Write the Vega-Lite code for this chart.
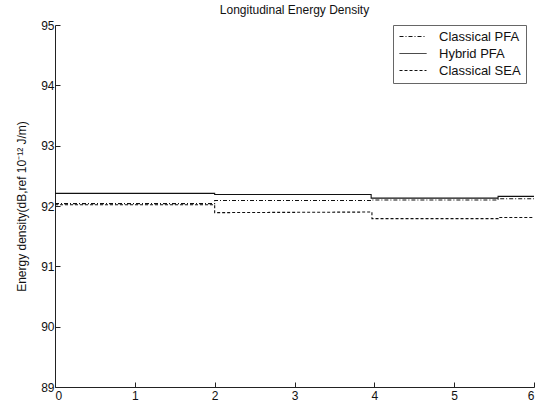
{
  "$schema": "https://vega.github.io/schema/vega-lite/v6.json",
  "autosize": "none",
  "width": 479,
  "height": 362,
  "padding": {"left": 55, "top": 25, "right": 6, "bottom": 25},
  "background": "white",
  "title": {"text": "Longitudinal Energy Density", "font": "Liberation Sans", "fontSize": 12, "fontWeight": "normal", "color": "#111", "offset": 2, "anchor": "middle"},
  "config": {
    "view": {"stroke": null},
    "font": "Liberation Sans",
    "axis": {"grid": false, "domainColor": "#222", "tickColor": "#222", "labelColor": "#111", "labelFontSize": 12, "titleFontSize": 12, "titleFontWeight": "normal", "titleColor": "#111", "tickSize": -5, "labelPadding": 6}
  },
  "data": {"values": [
    {"series": "Classical PFA", "i": 0, "x": 0, "y": 92.04},
    {"series": "Classical PFA", "i": 1, "x": 2, "y": 92.04},
    {"series": "Classical PFA", "i": 2, "x": 2, "y": 92.09},
    {"series": "Classical PFA", "i": 3, "x": 3.97, "y": 92.09},
    {"series": "Classical PFA", "i": 4, "x": 3.97, "y": 92.1},
    {"series": "Classical PFA", "i": 5, "x": 5.55, "y": 92.1},
    {"series": "Classical PFA", "i": 6, "x": 5.55, "y": 92.12},
    {"series": "Classical PFA", "i": 7, "x": 6, "y": 92.12},
    {"series": "Hybrid PFA", "i": 0, "x": 0, "y": 92.21},
    {"series": "Hybrid PFA", "i": 1, "x": 2, "y": 92.21},
    {"series": "Hybrid PFA", "i": 2, "x": 2, "y": 92.19},
    {"series": "Hybrid PFA", "i": 3, "x": 3.96, "y": 92.19},
    {"series": "Hybrid PFA", "i": 4, "x": 3.96, "y": 92.13},
    {"series": "Hybrid PFA", "i": 5, "x": 5.55, "y": 92.13},
    {"series": "Hybrid PFA", "i": 6, "x": 5.55, "y": 92.16},
    {"series": "Hybrid PFA", "i": 7, "x": 6, "y": 92.16},
    {"series": "Classical SEA", "i": 0, "x": 0, "y": 92.02},
    {"series": "Classical SEA", "i": 1, "x": 2, "y": 92.02},
    {"series": "Classical SEA", "i": 2, "x": 2, "y": 91.89},
    {"series": "Classical SEA", "i": 3, "x": 3.97, "y": 91.9},
    {"series": "Classical SEA", "i": 4, "x": 3.97, "y": 91.79},
    {"series": "Classical SEA", "i": 5, "x": 5.55, "y": 91.79},
    {"series": "Classical SEA", "i": 6, "x": 5.55, "y": 91.81},
    {"series": "Classical SEA", "i": 7, "x": 6, "y": 91.81}
  ]},
  "mark": {"type": "line", "strokeWidth": 1.1, "color": "#111"},
  "encoding": {
    "x": {"field": "x", "type": "quantitative", "scale": {"domain": [0, 6], "nice": false}, "axis": {"values": [0, 1, 2, 3, 4, 5, 6], "title": null, "labelPadding": 8}},
    "y": {"field": "y", "type": "quantitative", "scale": {"domain": [89, 95], "nice": false, "zero": false}, "axis": {"values": [89, 90, 91, 92, 93, 94, 95], "title": "Energy density(dB,ref 10⁻¹² J/m)", "titlePadding": 12}},
    "order": {"field": "i", "type": "quantitative"},
    "strokeDash": {"field": "series", "type": "nominal",
      "scale": {"domain": ["Classical PFA", "Hybrid PFA", "Classical SEA"], "range": [[4, 2, 1, 2], [1, 0], [3, 2]]},
      "legend": {"title": null, "orient": "none", "legendX": 338, "legendY": 0, "symbolType": "M-1,0H4.4", "symbolSize": 100, "symbolStrokeWidth": 1, "symbolStrokeColor": "#111", "labelFontSize": 13, "labelColor": "#111", "strokeColor": "#666", "fillColor": "white", "padding": 5, "rowPadding": 3, "labelOffset": 28}
    }
  }
}
